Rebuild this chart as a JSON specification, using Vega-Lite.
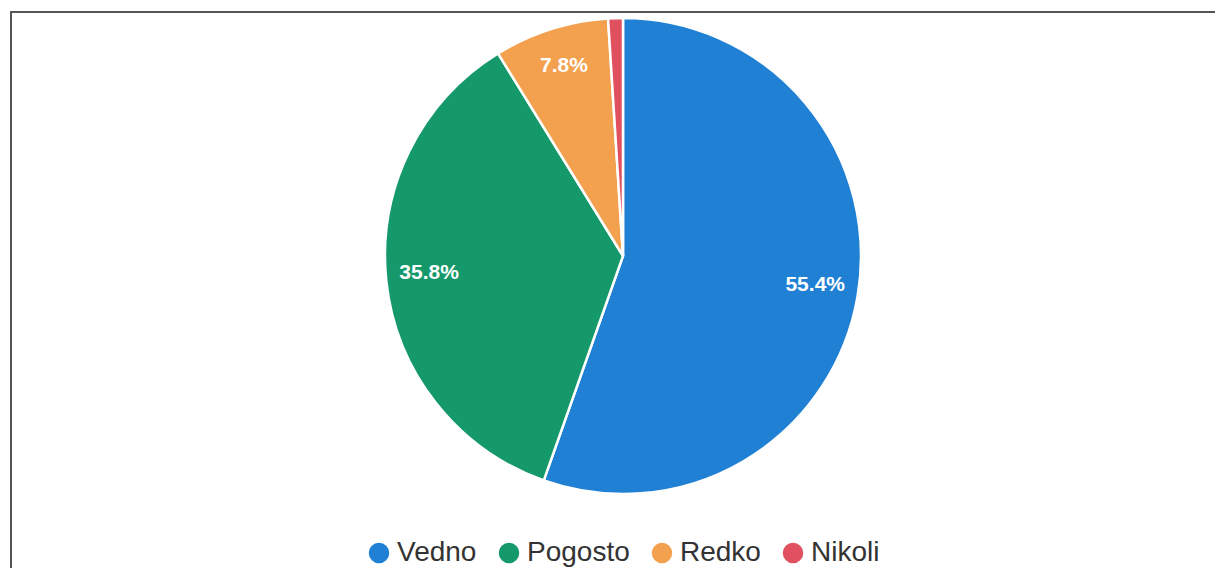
{
  "$schema": "https://vega.github.io/schema/vega-lite/v6.json",
  "width": 1224,
  "height": 600,
  "autosize": {"type": "none"},
  "padding": {"left": 11, "top": 12, "right": 0, "bottom": 0},
  "background": "white",
  "view": {"stroke": "#555555", "strokeWidth": 2, "fill": "white"},
  "config": {
    "view": {"stroke": "#555555", "strokeWidth": 2},
    "font": "Liberation Sans"
  },
  "data": {
    "values": [
      {"category": "Vedno", "value": 0.554},
      {"category": "Pogosto", "value": 0.358},
      {"category": "Redko", "value": 0.078},
      {"category": "Nikoli", "value": 0.010}
    ]
  },
  "encoding": {
    "theta": {"field": "value", "type": "quantitative", "stack": true},
    "order": {"field": "value", "sort": "descending"},
    "color": {
      "field": "category",
      "type": "nominal",
      "scale": {
        "domain": ["Vedno", "Pogosto", "Redko", "Nikoli"],
        "range": ["#1f80d4", "#15996a", "#f3a04f", "#e1505f"]
      },
      "legend": {
        "title": null,
        "orient": "none",
        "direction": "horizontal",
        "legendX": 354,
        "legendY": 527,
        "symbolType": "circle",
        "symbolSize": 420,
        "symbolStrokeWidth": 0,
        "symbolOpacity": 1,
        "labelFont": "Liberation Sans",
        "labelFontSize": 28,
        "labelColor": "#333333",
        "labelOffset": 4,
        "columnPadding": 18,
        "labelLimit": 300
      }
    }
  },
  "layer": [
    {
      "mark": {"type": "arc", "radius": 238, "yOffset": -56, "stroke": "white", "strokeWidth": 2.5}
    },
    {
      "mark": {"type": "text", "radius": 195, "yOffset": -60, "fontSize": 21, "fontWeight": "bold", "fill": "white", "font": "Liberation Sans"},
      "encoding": {
        "text": {"condition": {"test": "datum.value > 0.05", "field": "value", "format": ".1%"}, "value": ""},
        "color": {"value": "white"}
      }
    }
  ]
}
